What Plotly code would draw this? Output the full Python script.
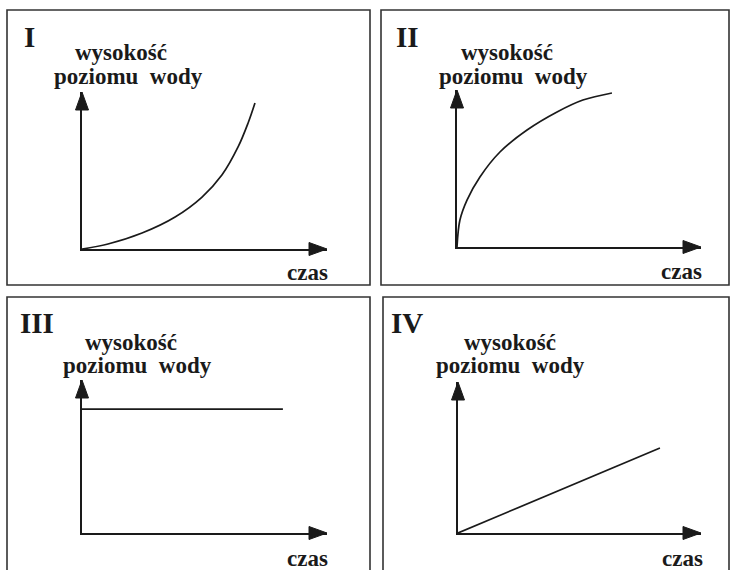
import plotly.graph_objects as go

# ---- data (time, water level) in relative units 0..10 (10 = arrow tip) ----
panel_labels = ["I", "II", "III", "IV"]
time_I = [0, 1.06, 2.45, 3.80, 4.90, 5.71, 6.37, 6.78, 7.06]
level_I = [0, 0.32, 1.02, 2.04, 3.31, 4.71, 6.50, 8.03, 9.30]
time_II = [0, 0.12, 0.41, 0.94, 1.76, 2.87, 4.10, 5.16, 6.35]
level_II = [0, 1.72, 2.99, 4.46, 6.05, 7.45, 8.60, 9.36, 9.81]
time_III = [0, 8.2]
level_III = [8.1, 8.1]
time_IV = [0, 8.31]
level_IV = [0, 5.63]
y_title = ["wysokość", "poziomu\u00a0 wody"]
x_title = "czas"

W, H = 736, 570
FONT = "Liberation Serif"
INK = "#1a1a1a"

def px(x):
    return x / W

def py(y):
    return 1 - y / H

# panel geometry in pixels: origin (x0, y0), arrow tips (xt, yt), frame box
panels = [
    dict(x0=82, y0=249, xt=327, yt=92, box=(7, 10, 370, 285),
         lab=(29, 37), t1=(121, 52), t2=(128, 77), tx=(307, 273)),
    dict(x0=457, y0=247, xt=701, yt=90, box=(381, 10, 729, 285),
         lab=(407, 37), t1=(507, 52), t2=(513, 77), tx=(681, 272)),
    dict(x0=82, y0=533, xt=327, yt=380, box=(7, 297, 370, 580),
         lab=(37, 323), t1=(131, 342), t2=(137, 365), tx=(307, 558)),
    dict(x0=458, y0=533, xt=701, yt=382, box=(383, 297, 729, 580),
         lab=(407, 323), t1=(510, 342), t2=(510, 365), tx=(682, 558)),
]
series = [(time_I, level_I), (time_II, level_II), (time_III, level_III), (time_IV, level_IV)]

fig = go.Figure()
shapes = []
annotations = []
layout_axes = {}

for i, (p, (tx_, ly_)) in enumerate(zip(panels, series)):
    n = "" if i == 0 else str(i + 1)
    xa, ya = "x" + n, "y" + n
    fig.add_trace(go.Scatter(
        x=tx_, y=ly_, mode="lines", xaxis=xa, yaxis=ya,
        line=dict(color=INK, width=1.7, shape="spline", smoothing=1.0),
        showlegend=False, hoverinfo="skip"))
    layout_axes["xaxis" + n] = dict(
        domain=[px(p["x0"]), px(p["xt"])], range=[0, 10], anchor=ya,
        showline=True, linecolor=INK, linewidth=2, showgrid=False,
        zeroline=False, showticklabels=False, ticks="", fixedrange=True)
    layout_axes["yaxis" + n] = dict(
        domain=[py(p["y0"]), py(p["yt"])], range=[0, 10], anchor=xa,
        showline=True, linecolor=INK, linewidth=2, showgrid=False,
        zeroline=False, showticklabels=False, ticks="", fixedrange=True)
    # arrowheads (pixel-sized, anchored at the axis tips)
    shapes.append(dict(type="path", xref="paper", yref="paper", xsizemode="pixel", ysizemode="pixel",
                       xanchor=px(p["xt"]), yanchor=py(p["y0"]),
                       path="M -18 -6.5 L 0 0 L -18 6.5 Z",
                       fillcolor=INK, line=dict(color=INK, width=1)))
    shapes.append(dict(type="path", xref="paper", yref="paper", xsizemode="pixel", ysizemode="pixel",
                       xanchor=px(p["x0"]), yanchor=py(p["yt"]),
                       path="M -6.5 -18 L 0 0 L 6.5 -18 Z",
                       fillcolor=INK, line=dict(color=INK, width=1)))
    # panel frame
    bx0, by0, bx1, by1 = p["box"]
    shapes.append(dict(type="rect", xref="paper", yref="paper",
                       x0=px(bx0), x1=px(bx1), y0=py(by1), y1=py(by0),
                       line=dict(color="#333333", width=1.6), fillcolor="rgba(0,0,0,0)"))
    # texts
    annotations.append(dict(text="<b>%s</b>" % panel_labels[i], xref="paper", yref="paper",
                            x=px(p["lab"][0]), y=py(p["lab"][1]), showarrow=False,
                            xanchor="center", yanchor="middle",
                            font=dict(family=FONT, size=29, color=INK)))
    for txt, pos in ((y_title[0], p["t1"]), (y_title[1], p["t2"]), (x_title, p["tx"])):
        annotations.append(dict(text="<b>%s</b>" % txt, xref="paper", yref="paper",
                                x=px(pos[0]), y=py(pos[1]), showarrow=False,
                                xanchor="center", yanchor="middle",
                                font=dict(family=FONT, size=23, color=INK)))

fig.update_layout(
    width=W, height=H, margin=dict(l=0, r=0, t=0, b=0),
    paper_bgcolor="white", plot_bgcolor="white",
    shapes=shapes, annotations=annotations, showlegend=False,
    **layout_axes)

fig.write_html("out.html", config={"displayModeBar": False},
               post_script="document.body.style.margin='0';document.body.style.overflow='hidden';")
